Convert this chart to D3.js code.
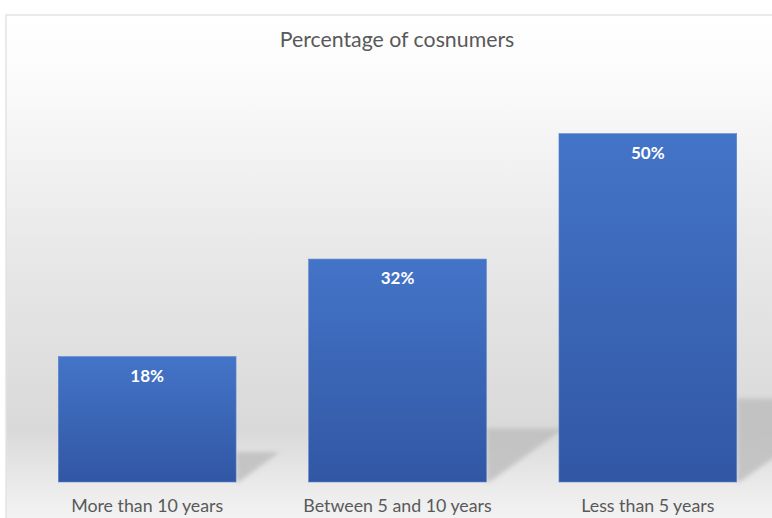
<!DOCTYPE html>
<html>
<head>
<meta charset="utf-8">
<script src="https://cdn.jsdelivr.net/npm/d3@7"></script>
<style>
  html, body { margin: 0; padding: 0; background: #ffffff; }
  svg { display: block; }
</style>
</head>
<body>
<script>
// Share of consumers by how long they have been customers
const categories = ["More than 10 years", "Between 5 and 10 years", "Less than 5 years"];
const values = [18, 32, 50];
const chartTitle = "Percentage of cosnumers";

const W = 772, H = 518;
const frame = { left: 6, top: 15, right: 790, bottom: 540 };
const plot = { left: 22, right: 773, top: 64, bottom: 482 };
const fontFamily = "Lato, 'Open Sans', sans-serif";

const svg = d3.select("body").append("svg")
  .attr("width", W).attr("height", H);

const defs = svg.append("defs");

// Chart background: wall fading to grey, lighter floor below the bars
const bg = defs.append("linearGradient")
  .attr("id", "bgGrad").attr("x1", 0).attr("y1", 0).attr("x2", 0).attr("y2", 1);
[[0, "#ffffff"], [0.12, "#fbfbfb"], [0.45, "#e8e8e8"], [0.79, "#d9d9d9"],
 [0.9, "#ebebeb"], [1, "#f8f8f8"]].forEach(([o, c]) =>
  bg.append("stop").attr("offset", o).attr("stop-color", c));

// Bar fill: lighter blue at the top, deeper at the base
const barGrad = defs.append("linearGradient")
  .attr("id", "barGrad").attr("x1", 0).attr("y1", 0).attr("x2", 0).attr("y2", 1);
barGrad.append("stop").attr("offset", 0).attr("stop-color", "#4474c8");
barGrad.append("stop").attr("offset", 1).attr("stop-color", "#3157a4");

const blur = defs.append("filter").attr("id", "shadowBlur")
  .attr("x", "-20%").attr("y", "-20%").attr("width", "140%").attr("height", "140%");
blur.append("feGaussianBlur").attr("stdDeviation", 2);

svg.append("rect")
  .attr("x", frame.left).attr("y", frame.top)
  .attr("width", frame.right - frame.left).attr("height", frame.bottom - frame.top)
  .attr("fill", "url(#bgGrad)")
  .attr("stroke", "#e3e3e3").attr("stroke-width", 1.5);

const x = d3.scaleBand()
  .domain(categories)
  .range([plot.left, plot.right])
  .paddingInner(0.29)
  .paddingOuter(0.145);

const y = d3.scaleLinear()
  .domain([0, 60])
  .range([plot.bottom, plot.top]);

const data = categories.map((c, i) => ({ cat: c, val: values[i] }));

// Cast shadows falling back and to the right of each bar
svg.append("g").selectAll("path")
  .data(data)
  .join("path")
  .attr("d", d => {
    const r = x(d.cat) + x.bandwidth();
    const b = y(0);
    const h = (y(0) - y(d.val)) * 0.24;
    const w = h * 1.45;
    return `M${r},${b - h}L${r + w},${b - h}L${r + 3},${b}L${r},${b}Z`;
  })
  .attr("fill", "#bdbdbd")
  .attr("opacity", 0.8)
  .attr("filter", "url(#shadowBlur)");

svg.append("g").selectAll("rect")
  .data(data)
  .join("rect")
  .attr("x", d => x(d.cat))
  .attr("y", d => y(d.val))
  .attr("width", x.bandwidth())
  .attr("height", d => y(0) - y(d.val))
  .attr("fill", "url(#barGrad)")
  .attr("stroke", "#5b84cf")
  .attr("stroke-width", 0.6);

svg.append("g").selectAll("text")
  .data(data)
  .join("text")
  .attr("x", d => x(d.cat) + x.bandwidth() / 2)
  .attr("y", d => y(d.val) + 25)
  .attr("text-anchor", "middle")
  .attr("font-family", fontFamily)
  .attr("font-weight", "bold")
  .attr("font-size", 17)
  .attr("fill", "#ffffff")
  .text(d => d.val + "%");

// Category axis (labels only)
const xAxis = svg.append("g")
  .attr("transform", `translate(0,${plot.bottom})`)
  .call(d3.axisBottom(x).tickSize(0).tickPadding(17));
xAxis.select(".domain").remove();
xAxis.selectAll("text")
  .attr("font-family", fontFamily)
  .attr("font-size", 17.8)
  .attr("fill", "#595959");

svg.append("text")
  .attr("x", 397)
  .attr("y", 47)
  .attr("text-anchor", "middle")
  .attr("font-family", fontFamily)
  .attr("font-size", 21.3)
  .attr("fill", "#595959")
  .text(chartTitle);
</script>
</body>
</html>
